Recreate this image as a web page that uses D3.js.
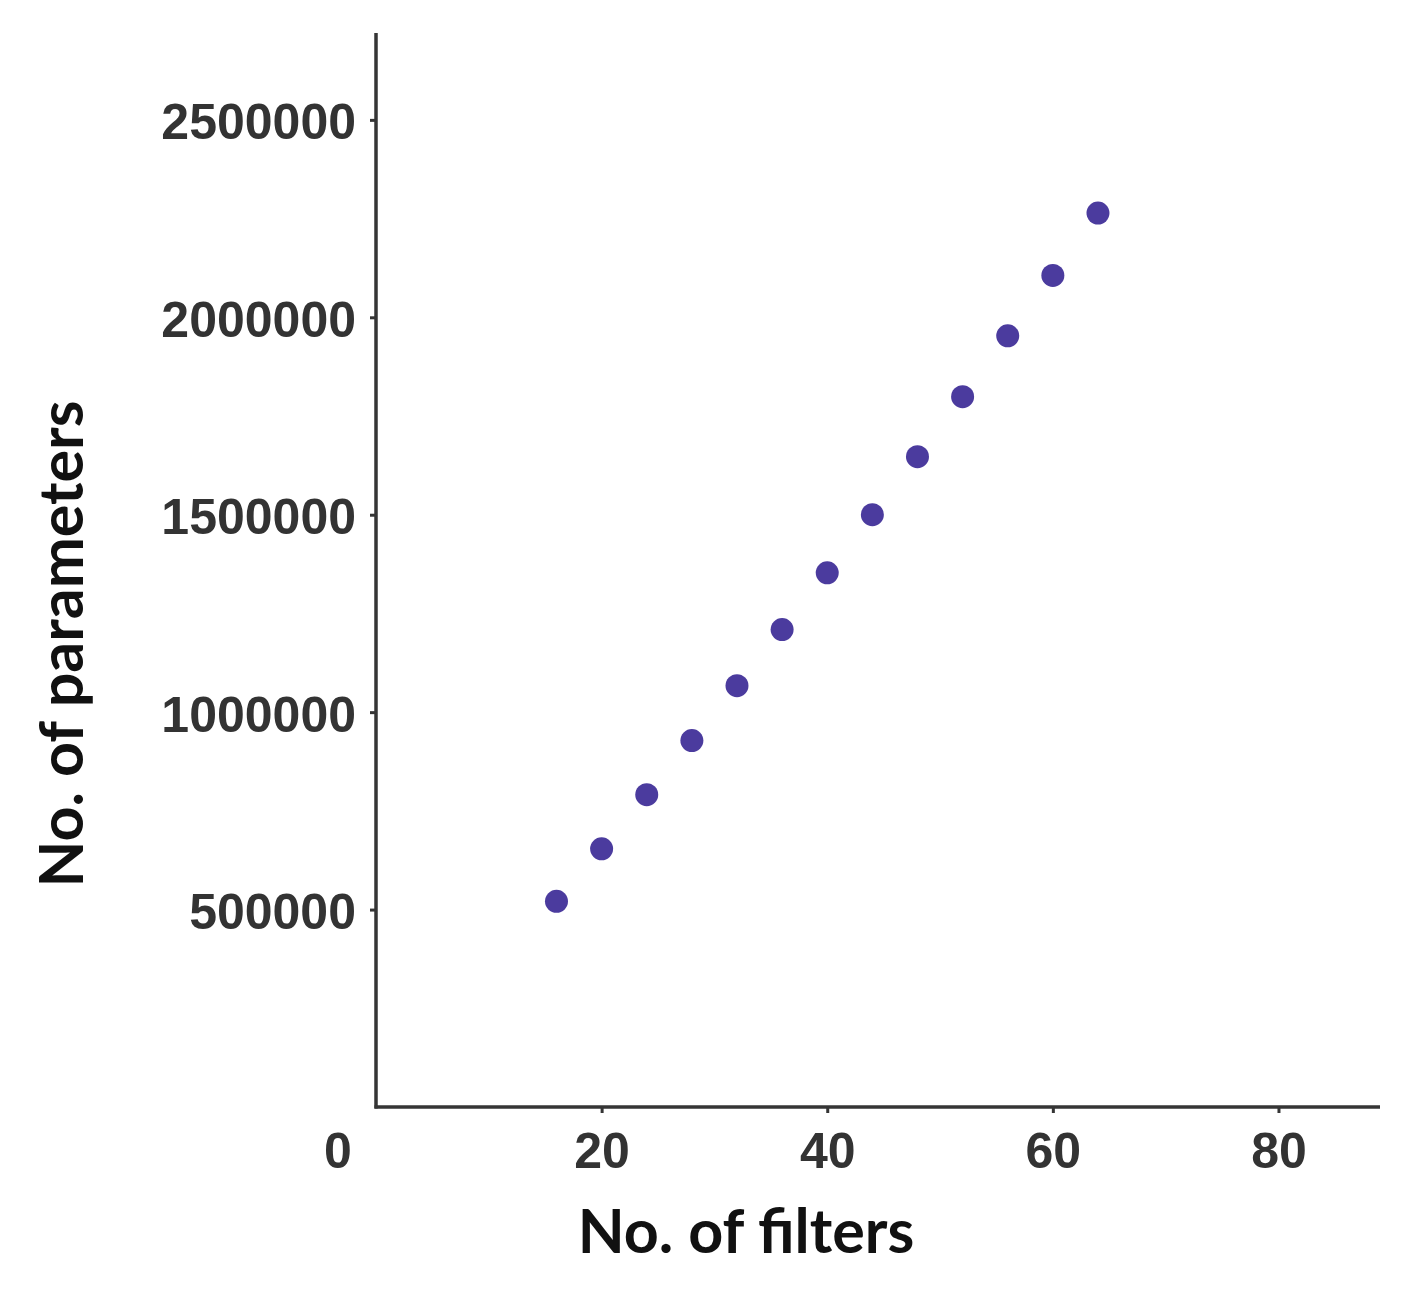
<!DOCTYPE html>
<html><head><meta charset="utf-8">
<script src="https://cdn.jsdelivr.net/npm/d3@7"></script>
<style>body{margin:0;background:#fff}</style>
</head><body>
<svg id="c" width="1414" height="1296"></svg>
<script>
const filters = [16,20,24,28,32,36,40,44,48,52,56,60,64];
const params = [521000,654000,791000,928000,1067000,1209000,1353000,1500000,1647000,1799000,1953000,2106000,2264000];
const xTicks = [20,40,60,80];
const yTicks = [500000,1000000,1500000,2000000,2500000];
const xTitle = "No. of filters";
const yTitle = "No. of parameters";

const svg = d3.select("#c");
const x = d3.scaleLinear().domain([0,89]).range([376,1380]);
const y = d3.scaleLinear().domain([0,2720000]).range([1107,33]);
const axisColor = "#353535";
const tickFont = 50;

const gx = svg.append("g").attr("transform",`translate(0,${y(0)})`)
  .call(d3.axisBottom(x).tickValues(xTicks).tickFormat(d3.format("d")).tickSize(6).tickPadding(19).tickSizeOuter(0));
const gy = svg.append("g").attr("transform",`translate(${x(0)},0)`)
  .call(d3.axisLeft(y).tickValues(yTicks).tickFormat(d3.format("d")).tickSize(6).tickPadding(14).tickSizeOuter(0));
[gx,gy].forEach(g=>{
  g.select(".domain").attr("stroke",axisColor).attr("stroke-width",3.5);
  g.selectAll(".tick line").attr("stroke",axisColor).attr("stroke-width",3);
  g.selectAll(".tick text").attr("fill","#333").attr("font-family","'Liberation Sans', Arial, sans-serif")
    .attr("font-weight","bold").attr("font-size",tickFont);
});
gy.selectAll(".tick text").attr("dy","0.38em");
gx.select(".domain").attr("d",`M${x(0)-1.5},0H${x(89)}`);
gy.select(".domain").attr("d",`M0,${y(0)+1.5}V${y(2720000)}`);
// origin 0 label
gx.append("text").attr("x",x(0)-38).attr("y",25).attr("dy","0.71em").attr("text-anchor","middle")
  .attr("fill","#333").attr("font-family","'Liberation Sans', Arial, sans-serif")
  .attr("font-weight","bold").attr("font-size",tickFont).text("0");

svg.append("g").selectAll("circle").data(filters).join("circle")
  .attr("cx",(d)=>x(d)).attr("cy",(d,i)=>y(params[i])).attr("r",11.5).attr("fill","#4b3b9e");

svg.append("text").attr("x",746).attr("y",1253).attr("text-anchor","middle")
  .attr("font-family","Lato, 'Open Sans', sans-serif").attr("font-weight","bold").attr("font-size",61)
  .attr("fill","#111").text(xTitle);
svg.append("text").attr("transform","translate(83,644) rotate(-90)").attr("text-anchor","middle")
  .attr("font-family","Lato, 'Open Sans', sans-serif").attr("font-weight","bold").attr("font-size",61)
  .attr("fill","#111").text(yTitle);
</script>
</body></html>
